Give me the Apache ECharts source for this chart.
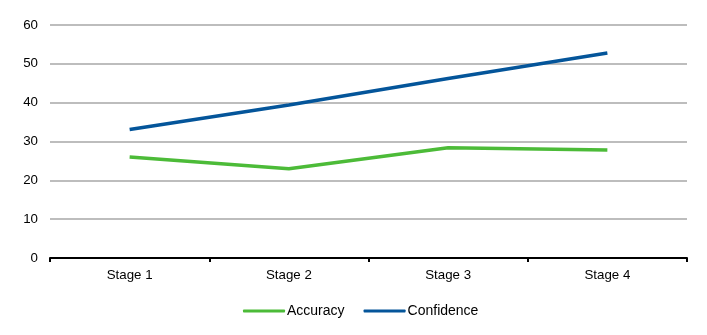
<!DOCTYPE html>
<html><head><meta charset="utf-8">
<script src="https://cdn.jsdelivr.net/npm/echarts@6/dist/echarts.min.js"></script>
<style>html,body{margin:0;padding:0;background:#fff}#c{width:707px;height:335px}</style>
</head><body><div id="c"></div>
<script>
const categories = ['Stage 1', 'Stage 2', 'Stage 3', 'Stage 4'];
const accuracy = [26.0, 23.0, 28.4, 27.8];
const confidence = [33.1, 39.4, 46.2, 52.8];
const chart = echarts.init(document.getElementById('c'));
const font = '"Liberation Sans", Arial, sans-serif';
chart.setOption({
  animation: false,
  grid: { left: 50, right: 20, top: 25, bottom: 77 },
  legend: {
    bottom: 12, left: 238, itemWidth: 42, itemHeight: 3, itemGap: 19,
    icon: 'roundRect',
    textStyle: { fontFamily: font, fontSize: 14, color: '#000', padding: [0,0,0,-3] },
    data: ['Accuracy', 'Confidence']
  },
  xAxis: {
    type: 'category', data: categories, boundaryGap: true,
    axisLine: { lineStyle: { color: '#000', width: 2 } },
    axisTick: { show: true, length: 4, lineStyle: { color: '#000', width: 2 } },
    axisLabel: { fontFamily: font, fontSize: 13.3, color: '#000', margin: 11 }
  },
  yAxis: {
    type: 'value', min: 0, max: 60, interval: 10,
    axisLine: { show: false }, axisTick: { show: false },
    axisLabel: { fontFamily: font, fontSize: 13.3, color: '#000', margin: 12 },
    splitLine: { lineStyle: { color: '#bdbdbd', width: 2 } }
  },
  series: [
    { name: 'Accuracy', type: 'line', data: accuracy, symbol: 'none',
      lineStyle: { color: '#4cbb38', width: 3.5 }, itemStyle: { color: '#4cbb38' } },
    { name: 'Confidence', type: 'line', data: confidence, symbol: 'none',
      lineStyle: { color: '#04559a', width: 3.5 }, itemStyle: { color: '#04559a' } }
  ]
});
</script></body></html>
